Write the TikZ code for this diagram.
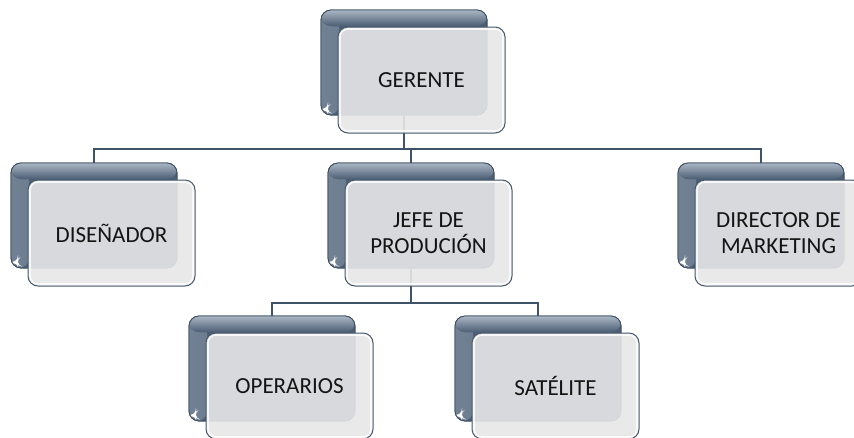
\documentclass[tikz,border=0pt]{standalone}
\usepackage{fontspec}
\setmainfont{Carlito}
\usetikzlibrary{calc}
\definecolor{backdark}{RGB}{76,94,116}
\definecolor{backlight}{RGB}{170,182,196}
\definecolor{backedge}{RGB}{58,76,96}
\definecolor{frontfill}{RGB}{231,231,232}
\definecolor{frontedge}{RGB}{72,90,110}
\definecolor{connc}{RGB}{62,82,104}
\definecolor{txt}{RGB}{20,20,20}
\tikzset{
  backbox/.style={rectangle, rounded corners=10pt, draw=backedge, line width=0.8pt,
    fill=backdark, minimum width=166pt, minimum height=105pt, inner sep=0pt, outer sep=0pt,
    anchor=north west,
    path picture={
      \fill[left color=backdark!60!backlight, right color=backdark]
        (path picture bounding box.north west) rectangle ([xshift=18pt]path picture bounding box.south west);
      \fill[top color=backlight, bottom color=backdark]
        (path picture bounding box.north west) rectangle ([yshift=-16pt]path picture bounding box.north east);
      \fill[white] ([xshift=7pt,yshift=9pt]path picture bounding box.south west) -- ++(0pt,-6pt) -- ++(-5pt,2pt) -- cycle;
    }},
  frontbox/.style={rectangle, rounded corners=10pt, draw=frontedge, line width=1pt,
    fill=frontfill, fill opacity=0.9, text opacity=1, minimum width=167pt, minimum height=106pt,
    inner sep=0pt, outer sep=0pt, anchor=north west, text=txt, align=center,
    font=\fontsize{23}{26}\selectfont,
    path picture={
      \draw[white, line width=1.6pt, opacity=0.8, rounded corners=8pt]
        ([xshift=2pt,yshift=-2pt]path picture bounding box.north west) rectangle
        ([xshift=-2pt,yshift=2pt]path picture bounding box.south east);
    }},
  conn/.style={draw=connc, line width=2.4pt}
}
\begin{document}
\begin{tikzpicture}[x=1pt,y=-1pt]
\clip (0,0) rectangle (854,437);
\fill[white] (0,0) rectangle (854,437);
% back boxes
\node[backbox] (gB) at (321,10) {};
\node[backbox] (dB) at (11,163) {};
\node[backbox] (jB) at (328,163) {};
\node[backbox] (mB) at (678,163) {};
\node[backbox] (oB) at (189,316) {};
\node[backbox] (sB) at (455,316) {};
% connectors
\coordinate (bus1) at (0,149);
\coordinate (bus2) at (0,303);
\draw[conn] (gB.south) -- (gB.south |- bus1);
\draw[conn] (dB.north) |- (bus1 -| mB.north) -- (mB.north);
\draw[conn] (jB.north) -- (jB.north |- bus1);
\draw[conn] (jB.south) -- (jB.south |- bus2);
\draw[conn] (oB.north) |- (bus2 -| sB.north) -- (sB.north);
% redraw back boxes over connector ends
\node[backbox] at (321,10) {};
\node[backbox] at (11,163) {};
\node[backbox] at (328,163) {};
\node[backbox] at (678,163) {};
\node[backbox] at (189,316) {};
\node[backbox] at (455,316) {};
% front boxes
\node[frontbox] (g) at (338,27) {GERENTE};
\node[frontbox] (d) at (28,180) {DISEÑADOR};
\node[frontbox] (j) at (345,180) {JEFE DE\\PRODUCIÓN};
\node[frontbox] (m) at (695,180) {DIRECTOR DE\\MARKETING};
\node[frontbox] (o) at (206,333) {OPERARIOS};
\node[frontbox] (s) at (472,333) {SATÉLITE};
\end{tikzpicture}
\end{document}
